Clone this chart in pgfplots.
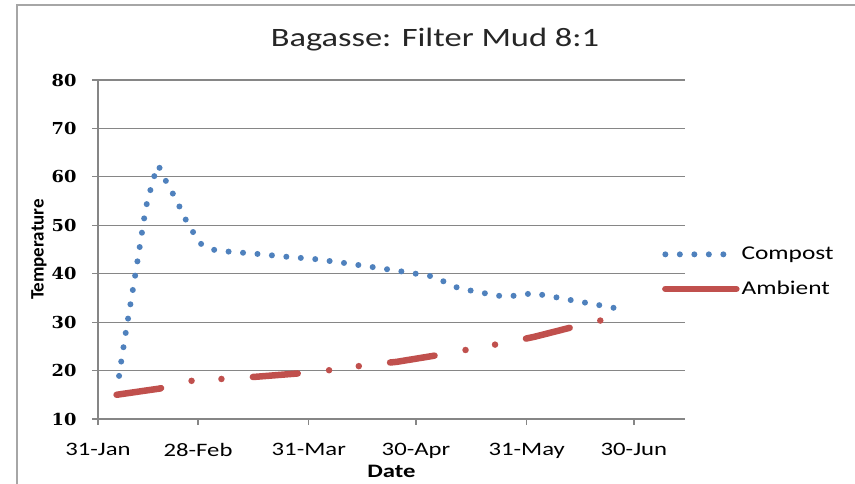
\documentclass[border=0pt]{standalone}
\usepackage{fontspec}
\setmainfont{Carlito}
\newfontfamily\calfont[FakeStretch=1.3]{Carlito}
\newfontfamily\serfont[FakeStretch=1.08]{DejaVu Serif}
\usepackage{pgfplots}
\pgfplotsset{compat=1.18}
\definecolor{cblue}{RGB}{79,129,189}
\definecolor{cred}{RGB}{192,80,77}
\definecolor{gridg}{RGB}{134,134,134}
\begin{document}
\begin{tikzpicture}
\path[use as bounding box] (0pt,0pt) rectangle (855pt,484pt);
\draw[gray!70, line width=1.5pt] (17pt,0pt) -- (17pt,479pt) -- (855pt,479pt);
\begin{axis}[
  at={(98pt,65pt)}, anchor=south west,
  scale only axis, width=587pt, height=339pt,
  xmin=0, xmax=164.3, ymin=10, ymax=80,
  axis x line*=bottom, axis y line*=left,
  axis line style={gridg, line width=1.2pt},
  tick style={gridg, line width=1.2pt},
  tick align=outside, major tick length=6pt,
  xtick={0,28,59,89,120,150},
  xticklabels={31-Jan,28-Feb,31-Mar,30-Apr,31-May,30-Jun},
  ytick={10,20,30,40,50,60,70,80},
  yticklabels={10,20,30,40,50,60,70,80},
  ymajorgrids, grid style={gridg, line width=1.2pt},
  xticklabel style={font=\calfont\fontsize{19}{22}\selectfont, text=black, yshift=-15pt},
  yticklabel style={font=\serfont\bfseries\fontsize{16.5}{19}\selectfont, text=black, xshift=-12pt},
  title={Bagasse: Filter Mud 8:1},
  title style={font=\calfont\fontsize{26.5}{30}\selectfont, at={(axis description cs:0.574,1)}, anchor=base, yshift=27pt, text=black!85},
  xlabel={Date},
  xlabel style={font=\calfont\bfseries\fontsize{19}{22}\selectfont, at={(axis description cs:0.5,0)}, anchor=base, yshift=-59pt},
  ylabel={Temperature},
  ylabel style={font=\bfseries\fontsize{19}{22}\selectfont, at={(axis description cs:-0.1005,0.5)}, anchor=center},
  legend style={at={(axis description cs:0.961,0.434)}, anchor=west, draw=none, fill=none, inner sep=0pt, outer sep=0pt, row sep=16pt, font=\calfont\fontsize{19.5}{22}\selectfont},
  legend cell align=left,
  legend image code/.code={\draw[#1] (0pt,0pt) -- (71pt,0pt);},
]
\addplot[cred, line width=6.5pt, line cap=round, dash pattern=on 45pt off 31.5pt on 0pt off 30pt on 0pt off 31.5pt, forget plot] table {
x y
5.2 15.0
15.5 16.1
17.4 16.3
19.7 17.0
27.8 18.1
36.0 18.3
43.9 18.7
59.3 19.6
67.3 20.3
75.6 21.2
83.6 21.8
98.5 23.6
106.6 24.8
114.7 25.8
122.3 27.0
137.2 29.8
144.9 31.0
};
\addplot[cblue, line width=6pt, line cap=round, dash pattern=on 0pt off 14.5pt, forget plot] table {
x y
5.9 18.9
6.4 21.4
8.0 28.9
10.2 38.7
11.8 46.1
13.4 53.7
15.1 58.5
16.1 61.0
16.9 62.4
18.3 60.1
21.8 55.4
24.8 50.8
28.5 46.3
31.8 45.0
36.0 44.6
44.4 44.1
52.8 43.5
61.0 43.0
69.1 42.2
77.5 41.3
85.6 40.4
94.0 39.4
97.6 38.1
101.3 36.9
105.3 36.4
109.4 35.8
113.4 35.3
117.6 35.5
121.8 36.0
126.0 35.4
130.1 34.9
134.0 34.3
138.3 33.8
142.4 33.2
146.4 32.7
};
\addlegendimage{cblue, line width=6pt, line cap=round, dash pattern=on 0pt off 14.5pt}
\addlegendentry{Compost}
\addlegendimage{cred, line width=6.5pt, line cap=round}
\addlegendentry{Ambient}
\end{axis}
\end{tikzpicture}
\end{document}
